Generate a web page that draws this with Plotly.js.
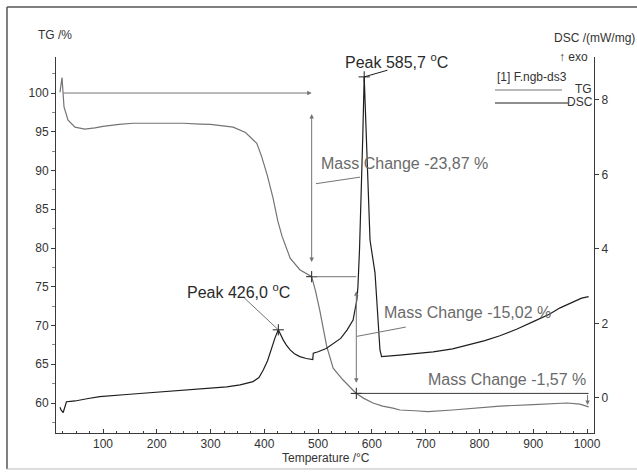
<!DOCTYPE html>
<html>
<head>
<meta charset="utf-8">
<script src="https://cdn.plot.ly/plotly-3.0.1.min.js"></script>
<style>html,body{margin:0;padding:0;background:#fff;}#chart{width:637px;height:472px;}</style>
</head>
<body>
<div id="chart"></div>
<script>
// ---- Data ----
const tgT = [20, 23.8, 27.5, 35, 48, 66, 85, 100, 130, 156, 200, 250, 280, 300, 342, 365, 386, 395, 405, 416, 425, 433, 448, 466, 488, 495, 503, 516, 528, 546, 570, 585, 602, 620, 639, 652, 680, 704, 750, 800, 838, 900, 963, 987, 1003];
const tgV = [100.1, 102.0, 98.2, 96.5, 95.6, 95.35, 95.5, 95.7, 95.95, 96.1, 96.1, 96.1, 96.0, 95.95, 95.6, 94.9, 93.5, 91.8, 89.5, 86.5, 83.5, 81.5, 78.7, 77.2, 76.3, 74.5, 72.0, 67.3, 64.5, 63.0, 61.3, 60.6, 60.0, 59.6, 59.35, 59.1, 59.0, 58.9, 59.1, 59.4, 59.6, 59.8, 60.0, 59.85, 59.5];

const dscT = [20, 22, 26, 32, 40, 48, 70, 94, 150, 198, 250, 297, 330, 355, 379, 390, 398, 406, 414, 420, 426, 430, 435, 441, 448, 456, 466, 478, 488, 490, 491, 500, 515, 528, 542, 554, 565, 572, 574, 577, 580, 583, 585.7, 589, 593, 596.5, 605.8, 610, 615, 618, 630, 652, 680, 714, 750, 777, 810, 838, 870, 900, 930, 950, 970, 990, 1003];
const dscV = [-0.25, -0.32, -0.39, -0.1, -0.09, -0.08, -0.02, 0.035, 0.1, 0.15, 0.2, 0.26, 0.3, 0.35, 0.44, 0.55, 0.75, 1.0, 1.38, 1.62, 1.83, 1.7, 1.56, 1.42, 1.29, 1.19, 1.11, 1.06, 1.02, 1.03, 1.2, 1.24, 1.33, 1.45, 1.6, 1.83, 2.09, 2.63, 2.98, 4.0, 5.3, 7.0, 8.62, 7.2, 5.3, 4.24, 3.36, 2.45, 1.29, 1.11, 1.12, 1.15, 1.19, 1.24, 1.32, 1.42, 1.54, 1.67, 1.85, 2.05, 2.25, 2.42, 2.55, 2.68, 2.72];

const peakT = [426.0, 585.7];
const peakV = [1.83, 8.62];
const peakLabels = ["Peak 426,0 <sup>o</sup>C", "Peak 585,7 <sup>o</sup>C"];

const stepT = [488, 571];
const stepV = [76.3, 61.24];
const massChangeLabels = ["Mass Change -23,87 %", "Mass Change -15,02 %", "Mass Change -1,57 %"];

const xTickVals = [100, 200, 300, 400, 500, 600, 700, 800, 900, 1000];
const tgTickVals = [60, 65, 70, 75, 80, 85, 90, 95, 100];
const dscTickVals = [0, 2, 4, 6, 8];

const legendLabels = ["[1] F.ngb-ds3", "TG", "DSC"];
const axisTitles = ["TG /%", "DSC /(mW/mg)", "↑ exo", "Temperature /°C"];

// ---- Styling ----
const FONT = "Liberation Sans, Arial, sans-serif";
const TG_COL = "#747474";
const DSC_COL = "#1e1e1e";
const AX_COL = "#3a3a3a";
const BIG = 16;

const traces = [
  {x: tgT, y: tgV, type: "scatter", mode: "lines", yaxis: "y", line: {color: TG_COL, width: 1.2}, hoverinfo: "skip"},
  {x: dscT, y: dscV, type: "scatter", mode: "lines", yaxis: "y2", line: {color: DSC_COL, width: 1.2}, hoverinfo: "skip"},
  {x: peakT, y: peakV, type: "scatter", mode: "markers", yaxis: "y2",
   marker: {symbol: "cross-thin-open", size: 8, color: DSC_COL, line: {color: DSC_COL, width: 1}}, hoverinfo: "skip"},
  {x: stepT, y: stepV, type: "scatter", mode: "markers", yaxis: "y",
   marker: {symbol: "cross-thin-open", size: 8, color: DSC_COL, line: {color: DSC_COL, width: 1}}, hoverinfo: "skip"}
];

const shapes = [
  // frame
  {type: "line", xref: "paper", yref: "paper", x0: -0.0911, x1: 1.09, y0: 1.133, y1: 1.133, line: {color: "#555", width: 1.5}},
  {type: "line", xref: "paper", yref: "paper", x0: -0.0911, x1: -0.0911, y0: 1.133, y1: -0.0957, line: {color: "#555", width: 1.5}},
  {type: "line", xref: "paper", yref: "paper", x0: -0.0911, x1: 1.09, y0: -0.0957, y1: -0.0957, line: {color: "#bbb", width: 1}},
  // step construction lines (TG)
  {type: "line", xref: "x", yref: "y", x0: stepT[0], x1: stepT[1], y0: stepV[0], y1: stepV[0], line: {color: TG_COL, width: 1}},
  {type: "line", xref: "x", yref: "y", x0: stepT[1], x1: tgT[tgT.length - 1], y0: stepV[1], y1: stepV[1], line: {color: AX_COL, width: 1}},
  // leader lines for mass change labels
  {type: "line", xref: "x", yref: "y", x0: 496, x1: 578, y0: 88.3, y1: 89.15, line: {color: TG_COL, width: 1}},
  {type: "line", xref: "x", yref: "y", x0: 572, x1: 663, y0: 68.6, y1: 69.8, line: {color: TG_COL, width: 1}},
  // leader lines for peak labels
  {type: "line", xref: "x", yref: "y2", x0: peakT[1], x1: 629, y0: peakV[1], y1: 8.8, line: {color: DSC_COL, width: 1}},
  {type: "line", xref: "x", yref: "y2", x0: 361, x1: peakT[0], y0: 2.71, y1: peakV[0], line: {color: TG_COL, width: 1}},
  // legend lines
  {type: "line", xref: "paper", yref: "paper", x0: 0.816, x1: 0.9405, y0: 0.9122, y1: 0.9122, line: {color: TG_COL, width: 1.2}},
  {type: "line", xref: "paper", yref: "paper", x0: 0.816, x1: 0.9517, y0: 0.8777, y1: 0.8777, line: {color: DSC_COL, width: 1.2}}
];

function arrow(x, y, ax, ay, col, both) {
  return {x: x, y: y, ax: ax, ay: ay, xref: "x", yref: "y", axref: "x", ayref: "y", text: "",
          showarrow: true, arrowhead: 2, arrowsize: 0.9, arrowwidth: 1, arrowcolor: col,
          arrowside: both ? "end+start" : "end", standoff: 0, startstandoff: 0};
}

const annotations = [
  arrow(stepT[0], 100, 24, 100, TG_COL, false),
  arrow(stepT[0], 78.2, stepT[0], 97.5, TG_COL, true),
  arrow(stepT[1], 62.6, stepT[1], 74.6, TG_COL, true),
  arrow(1001, 59.75, 1001, stepV[1], TG_COL, false),
  {x: 502, y: 90.97, xref: "x", yref: "y", text: massChangeLabels[0], showarrow: false, xanchor: "left", yanchor: "middle",
   font: {family: FONT, size: BIG, color: "#6a6a6a"}},
  {x: 619, y: 71.74, xref: "x", yref: "y", text: massChangeLabels[1], showarrow: false, xanchor: "left", yanchor: "middle",
   font: {family: FONT, size: BIG, color: "#6a6a6a"}},
  {x: 701, y: 62.97, xref: "x", yref: "y", text: massChangeLabels[2], showarrow: false, xanchor: "left", yanchor: "middle",
   font: {family: FONT, size: BIG, color: "#6a6a6a"}},
  {x: 253, y: 2.87, xref: "x", yref: "y2", text: peakLabels[0], showarrow: false, xanchor: "left", yanchor: "middle",
   font: {family: FONT, size: BIG, color: "#2a2a2a"}},
  {x: 546, y: 9.05, xref: "x", yref: "y2", text: peakLabels[1], showarrow: false, xanchor: "left", yanchor: "middle",
   font: {family: FONT, size: BIG, color: "#2a2a2a"}},
  // axis titles
  {x: -0.0372, y: 1.0585, xref: "paper", yref: "paper", text: axisTitles[0], showarrow: false, xanchor: "left", yanchor: "middle",
   font: {family: FONT, size: 12, color: "#333"}},
  {x: 0.922, y: 1.0505, xref: "paper", yref: "paper", text: axisTitles[1], showarrow: false, xanchor: "left", yanchor: "middle",
   font: {family: FONT, size: 12, color: "#333"}},
  {x: 0.931, y: 1.0, xref: "paper", yref: "paper", text: axisTitles[2], showarrow: false, xanchor: "left", yanchor: "middle",
   font: {family: FONT, size: 12, color: "#333"}},
  {x: 0.5019, y: -0.0665, xref: "paper", yref: "paper", text: axisTitles[3], showarrow: false, xanchor: "center", yanchor: "middle",
   font: {family: FONT, size: 12, color: "#333"}},
  // legend texts
  {x: 0.816, y: 0.9468, xref: "paper", yref: "paper", text: legendLabels[0], showarrow: false, xanchor: "left", yanchor: "middle",
   font: {family: FONT, size: 12, color: "#333"}},
  {x: 1.0, y: 0.915, xref: "paper", yref: "paper", text: legendLabels[1], showarrow: false, xanchor: "right", yanchor: "middle",
   font: {family: FONT, size: 12, color: "#333"}},
  {x: 1.002, y: 0.880, xref: "paper", yref: "paper", text: legendLabels[2], showarrow: false, xanchor: "right", yanchor: "middle",
   font: {family: FONT, size: 12, color: "#333"}}
];

const layout = {
  width: 637, height: 472,
  margin: {l: 56, r: 43, t: 57, b: 39, pad: 0},
  paper_bgcolor: "#fff", plot_bgcolor: "#fff",
  showlegend: false,
  font: {family: FONT, size: 12, color: "#333"},
  xaxis: {range: [12.6, 1013], tickvals: xTickVals, ticks: "inside", ticklen: 4, tickcolor: AX_COL,
          showline: true, linecolor: AX_COL, linewidth: 1, showgrid: false, zeroline: false, mirror: false,
          minor: {dtick: 25, tick0: 0, ticks: "inside", ticklen: 2, tickcolor: AX_COL, showgrid: false},
          tickfont: {family: FONT, size: 12, color: "#333"}},
  yaxis: {range: [56.13, 104.65], tickvals: tgTickVals, ticks: "outside", ticklen: 4, tickcolor: AX_COL,
          showline: true, linecolor: AX_COL, linewidth: 1, showgrid: false, zeroline: false,
          minor: {dtick: 2.5, tick0: 0, ticks: "outside", ticklen: 3, tickcolor: "#888", showgrid: false},
          tickfont: {family: FONT, size: 12, color: "#333"}},
  yaxis2: {range: [-0.94, 9.154], tickvals: dscTickVals, overlaying: "y", side: "right", ticks: "outside", ticklen: 4,
           tickcolor: AX_COL, showline: true, linecolor: AX_COL, linewidth: 1, showgrid: false, zeroline: false,
           tickfont: {family: FONT, size: 12, color: "#333"}},
  shapes: shapes,
  annotations: annotations
};

Plotly.newPlot("chart", traces, layout, {staticPlot: true, displayModeBar: false});
</script>
</body>
</html>
